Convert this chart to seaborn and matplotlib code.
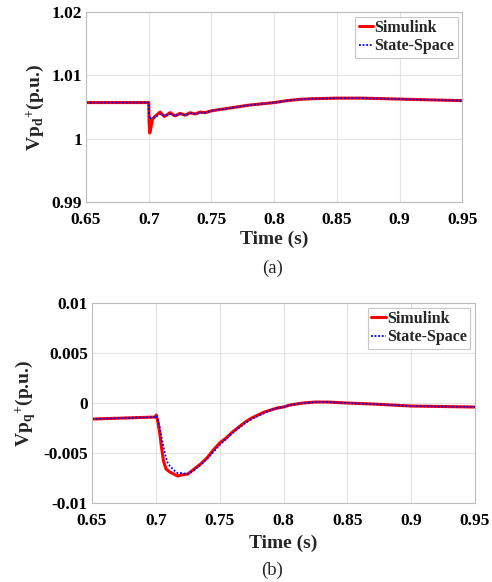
import matplotlib
matplotlib.use("Agg")
import matplotlib.pyplot as plt
import seaborn as sns
import pandas as pd

# ---------------- data ----------------
# (a) Vp_d+
ta_red = [0.65, 0.70, 0.7003, 0.7008, 0.7015, 0.703, 0.7055, 0.709, 0.7125, 0.717, 0.721,
          0.725, 0.729, 0.733, 0.737, 0.741, 0.745, 0.75, 0.76, 0.77, 0.78, 0.79, 0.80,
          0.81, 0.82, 0.83, 0.85, 0.87, 0.89, 0.91, 0.93, 0.95]
va_red = [1.0057, 1.0057, 1.0025, 1.0009, 1.0015, 1.0031, 1.0036, 1.0042, 1.0035, 1.0041, 1.0036,
          1.0040, 1.0037, 1.0041, 1.0039, 1.0042, 1.0041, 1.0044, 1.0047, 1.0050, 1.0053, 1.0055, 1.0057,
          1.0060, 1.0062, 1.0063, 1.0064, 1.0064, 1.0063, 1.0062, 1.0061, 1.0060]
ta_blue = [0.65, 0.70, 0.7003, 0.7008, 0.702, 0.705, 0.709, 0.7125, 0.717, 0.721, 0.725,
           0.729, 0.733, 0.737, 0.741, 0.745, 0.75, 0.76, 0.77, 0.78, 0.79, 0.80,
           0.81, 0.82, 0.83, 0.85, 0.87, 0.89, 0.91, 0.93, 0.95]
va_blue = [1.0057, 1.0057, 1.0040, 1.0031, 1.0033, 1.0034, 1.0039, 1.0036, 1.0039, 1.0036, 1.0039,
           1.0037, 1.0040, 1.0039, 1.0041, 1.0041, 1.0044, 1.0047, 1.0050, 1.0053, 1.0055, 1.0057,
           1.0060, 1.0062, 1.0063, 1.0064, 1.0064, 1.0063, 1.0062, 1.0061, 1.0060]

# (b) Vp_q+
tb_red = [0.65, 0.70, 0.7003, 0.7015, 0.703, 0.7045, 0.706, 0.708, 0.711, 0.714, 0.717, 0.720,
          0.725, 0.730, 0.735, 0.740, 0.745, 0.750, 0.755, 0.760, 0.765, 0.770, 0.775, 0.780,
          0.785, 0.790, 0.795, 0.800, 0.805, 0.810, 0.815, 0.825, 0.835, 0.85, 0.87, 0.90, 0.95]
vb_red = [-0.0016, -0.0014, -0.0012, -0.0018, -0.0030, -0.0045, -0.0058, -0.0066, -0.0069, -0.0071,
          -0.0073, -0.0072, -0.0071, -0.0066, -0.0061, -0.0055, -0.0047, -0.0040, -0.0035, -0.0029,
          -0.0024, -0.0019, -0.0015, -0.0012, -0.0009, -0.0007, -0.0005, -0.0004, -0.0002, -0.0001,
          0.0000, 0.0001, 0.0001, 0.0000, -0.0001, -0.0003, -0.0004]
tb_blue = [0.65, 0.70, 0.7003, 0.7015, 0.703, 0.705, 0.707, 0.709, 0.711, 0.714, 0.717, 0.720,
           0.725, 0.730, 0.735, 0.740, 0.745, 0.750, 0.755, 0.760, 0.765, 0.770, 0.775, 0.780,
           0.785, 0.790, 0.795, 0.800, 0.805, 0.810, 0.815, 0.825, 0.835, 0.85, 0.87, 0.90, 0.95]
vb_blue = [-0.0016, -0.0014, -0.0013, -0.0016, -0.0024, -0.0038, -0.0050, -0.0059, -0.0063, -0.0067,
           -0.0070, -0.0070, -0.0071, -0.0067, -0.0062, -0.0056, -0.0049, -0.0042, -0.0036, -0.0030,
           -0.0025, -0.0020, -0.0016, -0.0013, -0.0010, -0.0007, -0.0005, -0.0004, -0.0002, -0.0001,
           0.0000, 0.0001, 0.0001, 0.0000, -0.0001, -0.0003, -0.0004]

xticks = [0.65, 0.7, 0.75, 0.8, 0.85, 0.9, 0.95]
xticklabels = ["0.65", "0.7", "0.75", "0.8", "0.85", "0.9", "0.95"]
ya_ticks = [0.99, 1.0, 1.01, 1.02]
ya_labels = ["0.99", "1", "1.01", "1.02"]
yb_ticks = [-0.01, -0.005, 0.0, 0.005, 0.01]
yb_labels = ["-0.01", "-0.005", "0", "0.005", "0.01"]
series_names = ["Simulink", "State-Space"]

# ---------------- style ----------------
sns.set_style("white")
plt.rcParams["font.family"] = ["Liberation Serif", "DejaVu Serif"]
plt.rcParams["mathtext.fontset"] = "custom"
plt.rcParams["mathtext.rm"] = "Liberation Serif:bold"
plt.rcParams["mathtext.it"] = "Liberation Serif:bold"
plt.rcParams["mathtext.bf"] = "Liberation Serif:bold"

fig = plt.figure(figsize=(4.92, 5.82), dpi=100)
ax_a = fig.add_axes([0.1748, 0.6529, 0.765, 0.3265])
ax_b = fig.add_axes([0.187, 0.1357, 0.7785, 0.3436])


def draw(ax, tr, vr, tbl, vbl, yt, yl, ylabel, letter, cap_y, xlpad):
    df_r = pd.DataFrame({"t": tr, "v": vr})
    df_b = pd.DataFrame({"t": tbl, "v": vbl})
    sns.lineplot(data=df_r, x="t", y="v", ax=ax, color="#ff0000", lw=2.2,
                 label=series_names[0], estimator=None, sort=False)
    sns.lineplot(data=df_b, x="t", y="v", ax=ax, color="#0000ff", lw=1.3,
                 linestyle=(0, (1, 1)), label=series_names[1], estimator=None, sort=False)
    ax.set_xlim(0.65, 0.95)
    ax.set_ylim(yt[0], yt[-1])
    ax.set_xticks(xticks)
    ax.set_xticklabels(xticklabels, fontweight="bold", fontsize=12.5)
    ax.set_yticks(yt)
    ax.set_yticklabels(yl, fontweight="bold", fontsize=12.5)
    ax.tick_params(direction="in", length=3, width=0.6, colors="black")
    ax.tick_params(axis="x", pad=7)
    ax.tick_params(axis="y", pad=3)
    ax.grid(True, color="#e3e3e3", lw=0.8)
    for s in ax.spines.values():
        s.set_color("#bdbdbd")
        s.set_linewidth(0.8)
    ax.set_xlabel("Time (s)", fontweight="bold", fontsize=14, labelpad=xlpad)
    ax.set_ylabel(ylabel, fontweight="bold", fontsize=14, labelpad=4)
    leg = ax.legend(loc="upper right", prop={"weight": "bold", "size": 11.5},
                    handlelength=0.9, handletextpad=0.1, borderpad=0.2,
                    labelspacing=0.15, borderaxespad=0.3, fancybox=False,
                    framealpha=1, edgecolor="#c8c8c8")
    leg.get_frame().set_linewidth(0.8)
    fig.text(0.553, cap_y, letter, ha="center", va="center", fontsize=13.5)


draw(ax_a, ta_red, va_red, ta_blue, va_blue, ya_ticks, ya_labels,
     r"Vp$_{\mathrm{d}}$$^{\mathrm{+}}$(p.u.)", "(a)", 1 - 268 / 582, 2)
draw(ax_b, tb_red, vb_red, tb_blue, vb_blue, yb_ticks, yb_labels,
     r"Vp$_{\mathrm{q}}$$^{\mathrm{+}}$(p.u.)", "(b)", 1 - 570 / 582, 4)

fig.savefig("out.png", dpi=100)
